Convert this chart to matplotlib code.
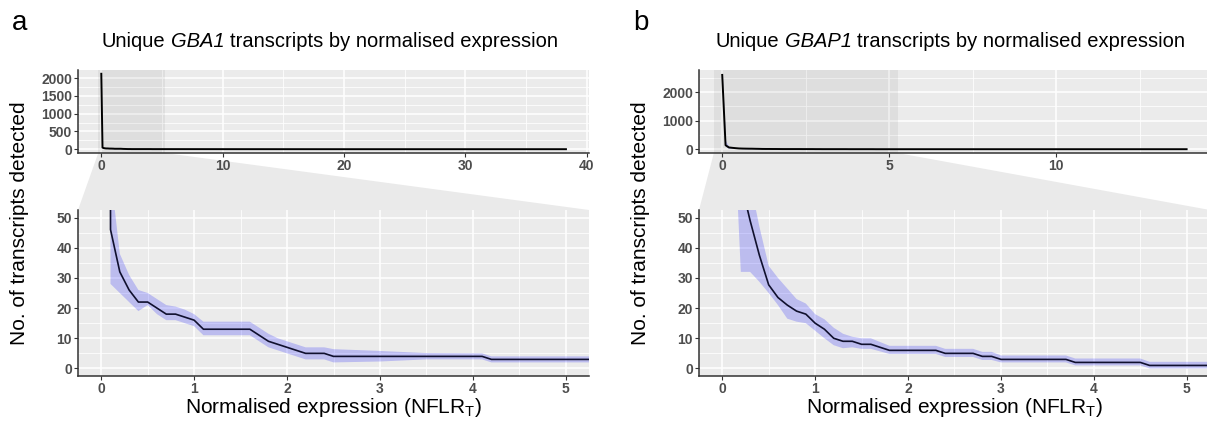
import matplotlib
matplotlib.use('Agg')
import matplotlib.pyplot as plt
from matplotlib.patches import Polygon
from matplotlib.ticker import FixedLocator

plt.rcParams['font.family'] = ['Liberation Sans', 'DejaVu Sans']
plt.rcParams['mathtext.fontset'] = 'custom'
plt.rcParams['mathtext.rm'] = 'Liberation Sans'
plt.rcParams['mathtext.it'] = 'Liberation Sans:italic'
plt.rcParams['mathtext.bf'] = 'Liberation Sans:bold'

# ---------------- data ----------------
# Panel a: GBA1
a_x = [0.0, 0.1, 0.2, 0.3, 0.4, 0.5, 0.6, 0.7, 0.8, 0.9, 1.0, 1.1, 1.6, 1.7, 1.8, 1.9,
       2.0, 2.1, 2.2, 2.4, 2.5, 3.0, 3.5, 4.1, 4.2, 5.3, 10.0, 20.0, 30.0, 38.3]
a_y = [2120, 46, 32, 26, 22, 22, 20, 18, 18, 17, 16, 13, 13, 11, 9, 8,
       7, 6, 5, 5, 4, 4, 4, 4, 3, 3, 2, 1, 1, 1]
a_hi = [2150, 65, 38, 31, 26, 25, 23, 21, 20.5, 19.5, 18, 15.5, 15.5, 13.5, 11.5, 10,
        9, 8, 7, 7, 6.4, 5.8, 5.1, 5, 4, 4, 3, 2, 2, 2]
a_lo = [2090, 28, 25, 22, 19, 21, 18, 16, 16, 15, 14, 11, 11, 9, 7, 6,
        5, 4, 3, 3, 2, 2.3, 3, 3, 2, 2, 1, 0, 0, 0]

# Panel b: GBAP1
b_x = [0.0, 0.1, 0.2, 0.3, 0.4, 0.5, 0.6, 0.7, 0.8, 0.9, 1.0, 1.1, 1.2, 1.3, 1.4, 1.5,
       1.6, 1.8, 2.3, 2.4, 2.7, 2.8, 2.9, 3.0, 3.7, 3.8, 4.5, 4.6, 5.3, 8.0, 13.9]
b_y = [2600, 140, 62, 49, 37.5, 27.7, 23.5, 21, 19, 18, 15, 13, 10, 9, 9, 8,
       8, 6, 6, 5, 5, 4, 4, 3, 3, 2, 2, 1, 1, 1, 1]
b_hi = [2640, 300, 95, 62, 47, 34, 30, 26.5, 23, 21.5, 18, 16.3, 13.5, 11.5, 10.5, 10,
        10, 7.5, 7.5, 6.5, 6.5, 5.5, 5.5, 4.3, 4.3, 3.3, 3.3, 2.2, 2.2, 2, 2]
b_lo = [2560, 100, 32, 32, 28.7, 25, 21, 16.5, 15.5, 15, 12.5, 10, 7.7, 6.7, 7, 6.5,
        6.5, 4.8, 4.8, 3.8, 3.8, 2.8, 2.8, 2, 2, 1, 1, 0, 0, 0, 0]

title_genes = ['GBA1', 'GBAP1']
title_pre = 'Unique'
title_post = 'transcripts by normalised expression'
panel_letters = ['a', 'b']
ylabel = 'No. of transcripts detected'
xlabel = 'Normalised expression (NFLR$_\\mathrm{T}$)'

# ---------------- figure ----------------
W, H = 1207, 423
fig = plt.figure(figsize=(W / 100, H / 100), dpi=100)
renderer = fig.canvas.get_renderer()


def ax_at(x0, y0, x1, y1):
    return fig.add_axes([x0 / W, 1 - y1 / H, (x1 - x0) / W, (y1 - y0) / H])


BG = '#EBEBEB'
AXC = '#333333'
TICKC = '#4D4D4D'
TFS = 14.5   # title size
LFS = 15     # axis label size
KFS = 10     # tick label size


def style(ax, xmaj, xmin, ymaj, ymin):
    ax.set_facecolor(BG)
    for s in ['top', 'right']:
        ax.spines[s].set_visible(False)
    for s in ['left', 'bottom']:
        ax.spines[s].set_color(AXC)
        ax.spines[s].set_linewidth(1.1)
    ax.xaxis.set_major_locator(FixedLocator(xmaj))
    ax.xaxis.set_minor_locator(FixedLocator(xmin))
    ax.yaxis.set_major_locator(FixedLocator(ymaj))
    ax.yaxis.set_minor_locator(FixedLocator(ymin))
    ax.grid(which='major', color='white', lw=1.1)
    ax.grid(which='minor', color='white', lw=0.55)
    ax.set_axisbelow(True)
    ax.tick_params(which='major', length=2.8, width=0.8, color=AXC, pad=1.5,
                   labelsize=KFS, labelcolor=TICKC)
    ax.tick_params(which='minor', length=0)
    for lab in ax.get_xticklabels() + ax.get_yticklabels():
        lab.set_fontweight('bold')


def text_width(s, **kw):
    t = fig.text(0, 0, s, **kw)
    w = t.get_window_extent(renderer).width
    t.remove()
    return w


def mixed_title(cx, ybase, gene):
    parts = [(title_pre, 'normal'), (gene, 'italic'), (title_post, 'normal')]
    sp = text_width('a a', fontsize=TFS) - text_width('aa', fontsize=TFS)
    widths = [text_width(s, fontsize=TFS, style=st) for s, st in parts]
    total = sum(widths) + 2 * sp
    x = cx - total / 2
    for (s, st), w in zip(parts, widths):
        fig.text(x / W, 1 - ybase / H, s, fontsize=TFS, style=st,
                 ha='left', va='baseline')
        x += w + sp


panels = [
    dict(x=a_x, y=a_y, hi=a_hi, lo=a_lo, left=78, right=589,
         txlim=(-1.92, 40.2), tylim=(-106, 2226),
         txmaj=[0, 10, 20, 30, 40], txmin=[5, 15, 25, 35],
         tymaj=[0, 500, 1000, 1500, 2000], tymin=[250, 750, 1250, 1750, 2250]),
    dict(x=b_x, y=b_y, hi=b_hi, lo=b_lo, left=699, right=1210,
         txlim=(-0.695, 14.6), tylim=(-132, 2772),
         txmaj=[0, 5, 10], txmin=[2.5, 7.5, 12.5],
         tymaj=[0, 1000, 2000], tymin=[500, 1500, 2500]),
]

zoom_x = (-0.25, 5.25)
RIB = (0, 0, 1, 0.2)
LINEC = '#10102e'

for i, p in enumerate(panels):
    L, R = p['left'], p['right']
    axT = ax_at(L, 70, R, 153)
    axB = ax_at(L, 210, R, 376)

    # top overview
    axT.fill_between(p['x'], p['lo'], p['hi'], color=RIB, lw=0, zorder=2)
    axT.plot(p['x'], p['y'], color='black', lw=1.4, zorder=3)
    axT.axvspan(zoom_x[0], zoom_x[1], color=(0, 0, 0, 0.055), lw=0, zorder=1.5)
    axT.set_xlim(*p['txlim'])
    axT.set_ylim(*p['tylim'])
    axT.set_xticks(p['txmaj'])
    axT.set_yticks(p['tymaj'])
    axT.set_yticklabels([str(v) for v in p['tymaj']])
    axT.set_xticklabels([str(v) for v in p['txmaj']])
    style(axT, p['txmaj'], p['txmin'], p['tymaj'], p['tymin'])

    # zoomed
    axB.fill_between(p['x'], p['lo'], p['hi'], color=RIB, lw=0, zorder=2)
    axB.plot(p['x'], p['y'], color=LINEC, lw=1.2, zorder=3)
    axB.set_xlim(*zoom_x)
    axB.set_ylim(-2.5, 52.5)
    xm = [0, 1, 2, 3, 4, 5]
    ym = [0, 10, 20, 30, 40, 50]
    axB.set_xticks(xm)
    axB.set_yticks(ym)
    axB.set_xticklabels([str(v) for v in xm])
    axB.set_yticklabels([str(v) for v in ym])
    style(axB, xm, [0.5, 1.5, 2.5, 3.5, 4.5], ym, [5, 15, 25, 35, 45])

    # zoom indicator trapezoid (figure coordinates)
    inv = fig.transFigure.inverted()
    t1 = inv.transform(axT.transData.transform((zoom_x[0], p['tylim'][0])))
    t2 = inv.transform(axT.transData.transform((zoom_x[1], p['tylim'][0])))
    b1 = inv.transform(axB.transAxes.transform((0, 1)))
    b2 = inv.transform(axB.transAxes.transform((1, 1)))
    trap = Polygon([t1, t2, b2, b1], closed=True, transform=fig.transFigure,
                   facecolor='#EAEAEA', edgecolor='none', zorder=-5)
    fig.patches.append(trap)

    cx = (L + R) / 2
    mixed_title(cx - 4, 47, title_genes[i])
    fig.text(cx / W, 1 - 413 / H, xlabel, ha='center', va='baseline', fontsize=LFS)
    fig.text((L - 58) / W, 1 - 223 / H, ylabel, ha='center', va='center',
             rotation=90, fontsize=LFS)
    fig.text((L - 66) / W, 1 - 30 / H, panel_letters[i], ha='left', va='baseline',
             fontsize=20)

fig.savefig('out.png', dpi=100)
